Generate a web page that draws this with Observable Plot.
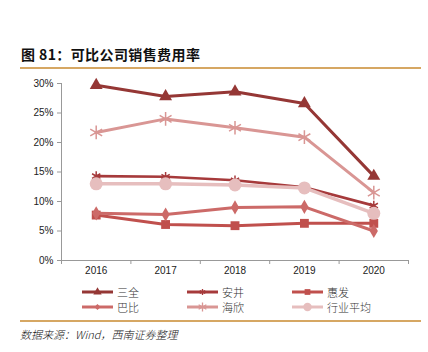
<!DOCTYPE html>
<html>
<head>
<meta charset="utf-8">
<script src="https://cdn.jsdelivr.net/npm/d3@7"></script>
<script src="https://cdn.jsdelivr.net/npm/@observablehq/plot@0.6"></script>
<style>
  html, body { margin: 0; padding: 0; background: #fff; }
  body { width: 428px; height: 352px; position: relative; overflow: hidden; font-family: "Liberation Sans", Arial, sans-serif; }
  #title { position: absolute; left: 21px; top: 45px; font-family: "Noto Sans CJK SC", sans-serif; font-weight: 700; font-size: 14px; letter-spacing: 0.4px; color: #111; line-height: 18px; white-space: nowrap; }
  .rule { position: absolute; left: 20px; width: 401px; height: 2px; background: #D6A763; }
  #chart { position: absolute; left: 0; top: 72px; }
  #legend { position: absolute; left: 0; top: 284px; width: 428px; height: 32px; }
  .item { position: absolute; display: flex; align-items: center; height: 15px; font-family: "Noto Sans CJK SC", sans-serif; font-weight: 300; font-size: 11px; color: #333; white-space: nowrap; }
  .item svg { margin-right: 4px; }
  #source { position: absolute; left: 20px; top: 326px; font-family: "Noto Sans CJK SC", "Liberation Sans", sans-serif; font-style: italic; font-weight: 300; font-size: 11px; color: #111; white-space: nowrap; }
</style>
</head>
<body>
<div id="title">图 81：可比公司销售费用率</div>
<div class="rule" style="top:67px"></div>
<div id="chart"></div>
<div id="legend"></div>
<div class="rule" style="top:320px"></div>
<div id="source">数据来源：Wind，西南证券整理</div>
<script>
const years = [2016, 2017, 2018, 2019, 2020];
const seriesNames = ["三全", "安井", "惠发", "巴比", "海欣", "行业平均"];
const sanquan = [29.7, 27.8, 28.6, 26.6, 14.3];
const anjing = [14.3, 14.2, 13.6, 12.4, 9.3];
const huifa = [7.7, 6.1, 5.9, 6.3, 6.3];
const babi = [8.0, 7.8, 9.0, 9.1, 5.0];
const haixin = [21.7, 24.0, 22.5, 20.9, 11.5];
const average = [13.0, 13.0, 12.8, 12.3, 8.0];
const yTicks = [0, 5, 10, 15, 20, 25, 30];

const values = [sanquan, anjing, huifa, babi, haixin, average];
const styles = {
  "三全":   {color: "#953735", symbol: "triangle", r: 4.8, stroke: false, width: 3},
  "安井":   {color: "#A63A3B", symbol: "asterisk", r: 4.5, stroke: true, width: 2.6},
  "惠发":   {color: "#C0504D", symbol: "square", r: 5, stroke: false, width: 3},
  "巴比":   {color: "#CC6A68", symbol: "diamond", r: 4.3, stroke: false, width: 3},
  "海欣":   {color: "#D99694", symbol: "asterisk", r: 6.5, stroke: true, width: 3},
  "行业平均": {color: "#E6BEBE", symbol: "circle", r: 6.5, stroke: false, width: 3.5}
};

const data = [];
seriesNames.forEach((name, i) => {
  years.forEach((yr, j) => data.push({series: name, year: yr, value: values[i][j]}));
});

const halfStep = 0.5;
const xDomain = [years[0] - halfStep, years[years.length - 1] + halfStep];
const boundaries = d3.range(years.length + 1).map(k => xDomain[0] + k);

const marks = [
  Plot.axisY({ticks: yTicks, tickFormat: d => d + "%", tickSize: 4, tickPadding: 4, stroke: "#999", fill: "#222", fontSize: 10, label: null}),
  Plot.axisX({ticks: boundaries, tickFormat: () => "", tickSize: 4, stroke: "#999", label: null}),
  Plot.axisX({ticks: years, tickFormat: d => String(d), tickSize: 0, tickPadding: 6, fill: "#222", fontSize: 10, label: null}),
  Plot.ruleX([xDomain[0]], {stroke: "#999"}),
  Plot.ruleY([0], {stroke: "#999"})
];
seriesNames.forEach(name => {
  const s = styles[name];
  const d = data.filter(e => e.series === name);
  marks.push(Plot.line(d, {x: "year", y: "value", stroke: s.color, strokeWidth: s.width}));
  if (s.stroke) {
    marks.push(Plot.dot(d, {x: "year", y: "value", symbol: s.symbol, r: s.r, stroke: s.color, strokeWidth: 1.5, fill: "none"}));
  } else {
    marks.push(Plot.dot(d, {x: "year", y: "value", symbol: s.symbol, r: s.r, fill: s.color, stroke: "none"}));
  }
});

const chart = Plot.plot({
  width: 428,
  height: 210,
  marginLeft: 61,
  marginRight: 20,
  marginTop: 11,
  marginBottom: 22,
  style: {fontFamily: "'Liberation Sans', Arial, sans-serif", fontSize: "10px", background: "white"},
  x: {type: "linear", domain: xDomain},
  y: {domain: [yTicks[0], yTicks[yTicks.length - 1]]},
  marks
});
document.getElementById("chart").appendChild(chart);

// legend
const legend = document.getElementById("legend");
const cols = [82, 187, 292];
seriesNames.forEach((name, i) => {
  const s = styles[name];
  const item = document.createElement("div");
  item.className = "item";
  item.style.left = cols[i % 3] + "px";
  item.style.top = (i < 3 ? 0 : 15) + "px";
  const w = 31, h = 14;
  const svg = d3.create("svg").attr("width", w).attr("height", h);
  svg.append("line").attr("x1", 0).attr("x2", w).attr("y1", h / 2).attr("y2", h / 2)
    .attr("stroke", s.color).attr("stroke-width", 3);
  const sym = {triangle: d3.symbolTriangle, asterisk: d3.symbolAsterisk, square: d3.symbolSquare, diamond: d3.symbolDiamond2, circle: d3.symbolCircle}[s.symbol];
  const size = Math.PI * Math.pow(s.r * 0.65, 2);
  const p = svg.append("path").attr("d", d3.symbol(sym, size)()).attr("transform", `translate(${w / 2},${h / 2})`);
  if (s.stroke) p.attr("fill", "none").attr("stroke", s.color).attr("stroke-width", 1.3);
  else p.attr("fill", s.color);
  item.appendChild(svg.node());
  const t = document.createElement("span");
  t.textContent = name;
  item.appendChild(t);
  legend.appendChild(item);
});
</script>
</body>
</html>
